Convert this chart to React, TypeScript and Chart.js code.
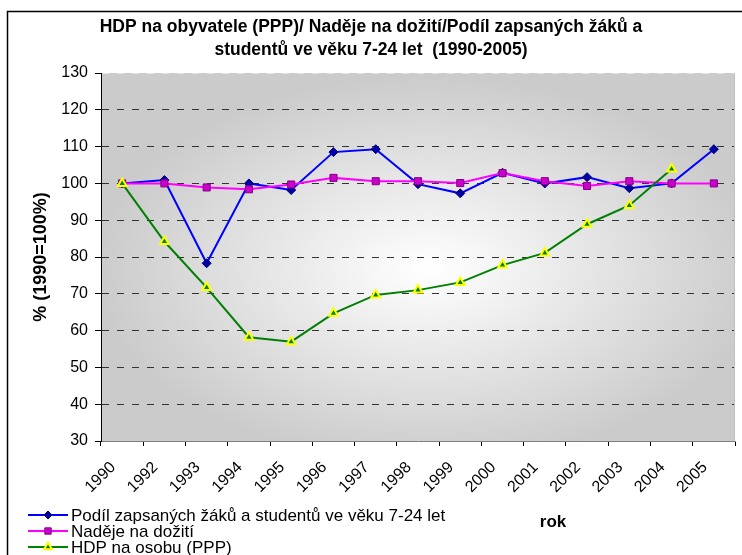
import React, { useEffect, useRef } from 'react';
import { Chart, registerables } from 'chart.js';

Chart.register(...registerables);

const years = ['1990', '1992', '1993', '1994', '1995', '1996', '1997', '1998', '1999', '2000', '2001', '2002', '2003', '2004', '2005'];
const enrolment = [100, 100.9, 78.3, 100, 98.2, 108.5, 109.3, 99.8, 97.3, 102.9, 100, 101.7, 98.7, 100, 109.3];
const lifeExpectancy = [100, 100, 98.9, 98.4, 99.7, 101.5, 100.6, 100.6, 100.1, 102.8, 100.6, 99.3, 100.6, 100, 100];
const gdp = [100, 84.2, 71.7, 58.2, 57.0, 64.7, 69.7, 71.0, 73.1, 77.8, 81.1, 88.9, 94.0, 103.9, null];

const yMin = 30;
const yMax = 130;
const yStep = 10;

const titleLines = ['HDP na obyvatele (PPP)/ Naděje na dožití/Podíl zapsaných žáků a', 'studentů ve věku 7-24 let  (1990-2005)'];
const yTitle = '% (1990=100%)';
const xTitle = 'rok';
const seriesNames = ['Podíl zapsaných žáků a studentů ve věku 7-24 let', 'Naděje na dožití', 'HDP na osobu (PPP)'];

const FONT = '"Liberation Sans", Arial, sans-serif';

function drawMarker(ctx: CanvasRenderingContext2D, kind: string, x: number, y: number, fill: string, stroke: string, r: number, lw: number) {
  ctx.save();
  ctx.beginPath();
  if (kind === 'rectRot') {
    ctx.moveTo(x, y - r);
    ctx.lineTo(x + r, y);
    ctx.lineTo(x, y + r);
    ctx.lineTo(x - r, y);
    ctx.closePath();
  } else if (kind === 'rect') {
    const s = r * Math.SQRT1_2;
    ctx.rect(x - s, y - s, 2 * s, 2 * s);
  } else {
    ctx.moveTo(x, y - r);
    ctx.lineTo(x + r * 0.866, y + r * 0.5);
    ctx.lineTo(x - r * 0.866, y + r * 0.5);
    ctx.closePath();
  }
  ctx.fillStyle = fill;
  ctx.fill();
  ctx.lineWidth = lw;
  ctx.strokeStyle = stroke;
  ctx.stroke();
  ctx.restore();
}

const styles = [
  { line: '#0000FF', fill: '#0000A8', stroke: '#000070', kind: 'rectRot', r: 4.5, lw: 1 },
  { line: '#FF00FF', fill: '#CC00CC', stroke: '#800080', kind: 'rect', r: 5, lw: 1 },
  { line: '#008000', fill: '#008000', stroke: '#FFFF00', kind: 'triangle', r: 5, lw: 2 },
];

const decorPlugin = {
  id: 'decor',
  beforeDraw(chart: any) {
    const { ctx, chartArea: a, width, height } = chart;
    ctx.save();
    ctx.fillStyle = '#ffffff';
    ctx.fillRect(0, 0, width, height);
    ctx.strokeStyle = '#000000';
    ctx.lineWidth = 1.5;
    ctx.strokeRect(7.5, 11.5, 2000, 2000);
    const cx = (a.left + a.right) / 2 + 10;
    const cy = (a.top + a.bottom) / 2 + 12;
    const rx = (a.right - a.left) / 2;
    const ry = (a.bottom - a.top) / 2;
    ctx.beginPath();
    ctx.rect(a.left, a.top, a.right - a.left, a.bottom - a.top);
    ctx.clip();
    ctx.translate(cx, cy);
    ctx.scale(rx, ry);
    const g = ctx.createRadialGradient(0, 0, 0, 0, 0, 1.05);
    g.addColorStop(0, '#ffffff');
    g.addColorStop(1, '#cbcbcb');
    ctx.fillStyle = g;
    ctx.fillRect(-3, -3, 6, 6);
    ctx.restore();
  },
  afterDraw(chart: any) {
    const { ctx, chartArea: a } = chart;
    ctx.save();
    ctx.strokeStyle = '#c0c0c0';
    ctx.lineWidth = 1;
    ctx.beginPath();
    ctx.moveTo(Math.round(a.right) - 0.5, a.top);
    ctx.lineTo(Math.round(a.right) - 0.5, a.bottom);
    ctx.stroke();
    ctx.fillStyle = '#000000';
    ctx.font = `bold 17.5px ${FONT}`;
    ctx.textAlign = 'center';
    ctx.textBaseline = 'middle';
    ctx.fillText(titleLines[0], 371, 27);
    ctx.fillText(titleLines[1], 371, 50);
    ctx.font = `bold 17px ${FONT}`;
    ctx.fillText(xTitle, 553, 522);
    ctx.font = `17px ${FONT}`;
    ctx.textAlign = 'left';
    const rows = [515, 531, 547];
    seriesNames.forEach((name, i) => {
      const s = styles[i];
      const y = rows[i];
      ctx.strokeStyle = s.line;
      ctx.lineWidth = 2;
      ctx.beginPath();
      ctx.moveTo(28, y);
      ctx.lineTo(68, y);
      ctx.stroke();
      drawMarker(ctx, s.kind, 48, y, s.fill, s.stroke, s.r - 0.5, s.lw);
      ctx.fillStyle = '#000000';
      ctx.fillText(name, 71, y + 1);
    });
    ctx.restore();
  },
};

export default function App() {
  const ref = useRef<HTMLCanvasElement | null>(null);
  useEffect(() => {
    if (!ref.current) return;
    const mk = (label: string, data: any[], i: number, order: number) => ({
      label,
      data,
      order,
      borderColor: styles[i].line,
      borderWidth: 2,
      backgroundColor: styles[i].fill,
      pointStyle: styles[i].kind,
      pointRadius: styles[i].r,
      pointBackgroundColor: styles[i].fill,
      pointBorderColor: styles[i].stroke,
      pointBorderWidth: styles[i].lw,
      tension: 0,
      spanGaps: false,
    });
    const chart = new Chart(ref.current, {
      type: 'line',
      data: {
        labels: years,
        datasets: [
          mk(seriesNames[0], enrolment, 0, 3),
          mk(seriesNames[1], lifeExpectancy, 1, 2),
          mk(seriesNames[2], gdp, 2, 1),
        ],
      },
      options: {
        responsive: false,
        animation: false,
        devicePixelRatio: 1,
        events: [],
        layout: { padding: { top: 73, left: 0, right: 4, bottom: 0 } },
        plugins: {
          legend: { display: false },
          title: { display: false },
          tooltip: { enabled: false },
        },
        scales: {
          x: {
            offset: true,
            grid: {
              display: true,
              offset: true,
              drawOnChartArea: false,
              drawTicks: true,
              tickLength: 5,
              tickColor: '#000000',
            },
            border: { display: true, color: '#808080', width: 1 },
            ticks: {
              autoSkip: false,
              minRotation: 45,
              maxRotation: 45,
              padding: 12,
              labelOffset: -9,
              color: '#000000',
              font: { family: FONT, size: 16 },
            },
            afterFit: (s: any) => { s.height = 114; },
          },
          y: {
            min: yMin,
            max: yMax,
            grid: {
              color: (c: any) => (c.tick && c.tick.value === yMax ? '#e4e4e4' : c.tick && c.tick.value === yMin ? 'rgba(0,0,0,0)' : '#333333'),
              lineWidth: 1,
              drawTicks: true,
              tickLength: 6,
              tickColor: '#000000',
            },
            border: { display: true, color: '#000000', width: 1, dash: [7, 8] },
            ticks: {
              stepSize: yStep,
              padding: 7,
              color: '#000000',
              font: { family: FONT, size: 16 },
            },
            title: {
              display: true,
              text: yTitle,
              color: '#000000',
              font: { family: FONT, size: 18, weight: 'bold' },
              padding: { top: 30, bottom: 0 },
            },
            afterFit: (s: any) => { s.width = 101; },
          },
        },
      },
      plugins: [decorPlugin],
    } as any);
    return () => chart.destroy();
  }, []);
  return (
    <div style={{ position: 'absolute', left: 0, top: 0, width: 742, height: 555 }}>
      <canvas ref={ref} width={742} height={555} style={{ display: 'block' }} />
    </div>
  );
}
